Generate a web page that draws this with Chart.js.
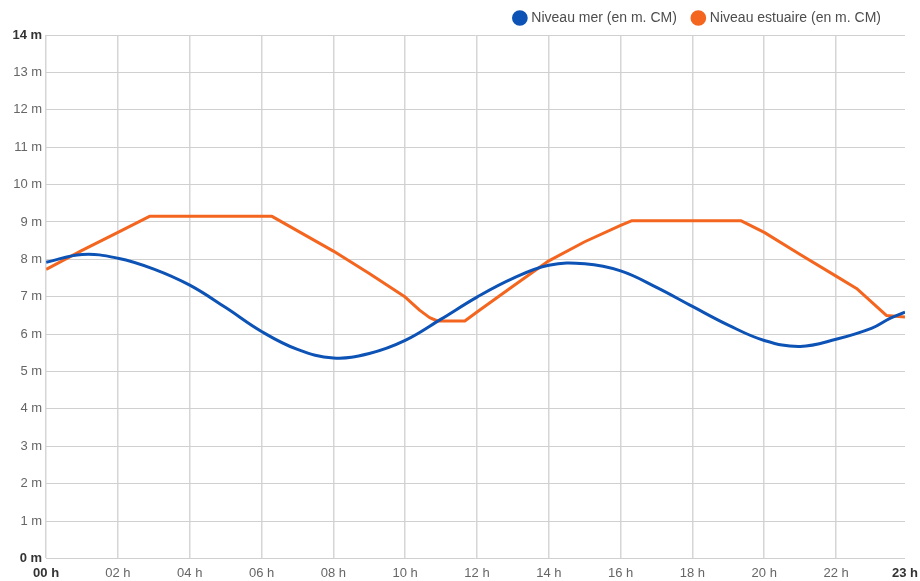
<!DOCTYPE html>
<html>
<head>
<meta charset="utf-8">
<script src="https://cdn.jsdelivr.net/npm/chart.js@4.4.0/dist/chart.umd.min.js"></script>
<style>
html,body{margin:0;padding:0;background:#fff}
#wrap{width:920px;height:581px;position:relative}
</style>
</head>
<body>
<div id="wrap"><canvas id="c"></canvas></div>
<script>
const seriesNames = ['Niveau mer (en m. CM)', 'Niveau estuaire (en m. CM)'];

const seaHours  = [0, 1, 2, 3, 4, 5, 6, 7, 8, 9, 10, 11, 12, 13, 14, 15, 16, 17, 18, 19, 20, 21, 22, 23, 23.5, 23.92];
const seaLevels = [7.92, 8.13, 8.03, 7.74, 7.31, 6.71, 6.07, 5.59, 5.36, 5.48, 5.83, 6.40, 6.99, 7.49, 7.84, 7.88, 7.69, 7.25, 6.74, 6.24, 5.83, 5.67, 5.86, 6.16, 6.42, 6.59];

const estuaryHours  = [0, 1, 2, 2.88, 6.29, 8, 9, 10, 10.4, 10.68, 10.9, 11.66, 12, 13, 14, 15, 16, 16.3, 19.36, 20, 21, 22, 22.57, 23.4, 23.92];
const estuaryLevels = [7.73, 8.24, 8.72, 9.15, 9.15, 8.22, 7.62, 6.99, 6.64, 6.44, 6.35, 6.35, 6.59, 7.28, 7.96, 8.47, 8.91, 9.03, 9.03, 8.72, 8.13, 7.55, 7.22, 6.50, 6.46];

const xTickValues = [0, 2, 4, 6, 8, 10, 12, 14, 16, 18, 20, 22, 23.92];
const xTickLabels = ['00 h', '02 h', '04 h', '06 h', '08 h', '10 h', '12 h', '14 h', '16 h', '18 h', '20 h', '22 h', '23 h'];
const yTickValues = [0, 1, 2, 3, 4, 5, 6, 7, 8, 9, 10, 11, 12, 13, 14];
const yTickLabels = ['0 m', '1 m', '2 m', '3 m', '4 m', '5 m', '6 m', '7 m', '8 m', '9 m', '10 m', '11 m', '12 m', '13 m', '14 m'];

const FONT = "'Liberation Sans', Arial, sans-serif";
const BLUE = '#0d52b5';
const ORANGE = '#f4661f';

function isEnd(ctx) {
  const n = ctx.scale && ctx.scale.ticks ? ctx.scale.ticks.length : 0;
  return ctx.index === 0 || ctx.index === n - 1;
}
const tickFont = ctx => ({family: FONT, size: 13, weight: isEnd(ctx) ? 'bold' : 'normal'});
const tickColor = ctx => isEnd(ctx) ? '#333333' : '#666666';

const legendShift = {
  id: 'legendShift',
  afterLayout(chart) {
    const l = chart.legend;
    if (l) { l.left -= 7; l.right -= 7; }
  }
};

new Chart(document.getElementById('c'), {
  type: 'line',
  data: {
    datasets: [
      {
        label: seriesNames[0],
        data: seaHours.map((h, i) => ({x: h, y: seaLevels[i]})),
        borderColor: BLUE,
        backgroundColor: BLUE,
        borderWidth: 3,
        pointRadius: 0,
        tension: 0.4,
        fill: false
      },
      {
        label: seriesNames[1],
        data: estuaryHours.map((h, i) => ({x: h, y: estuaryLevels[i]})),
        borderColor: ORANGE,
        backgroundColor: ORANGE,
        borderWidth: 3,
        pointRadius: 0,
        tension: 0,
        borderJoinStyle: 'round',
        fill: false
      }
    ]
  },
  options: {
    responsive: true,
    maintainAspectRatio: false,
    animation: false,
    devicePixelRatio: 1,
    layout: {padding: {left: 8.5, right: 15, top: -6, bottom: 0}},
    plugins: {
      tooltip: {enabled: false},
      legend: {
        position: 'top',
        align: 'end',
        labels: {
          usePointStyle: true,
          pointStyle: 'circle',
          boxWidth: 9,
          boxHeight: 9,
          padding: 17,
          color: '#4d4d4d',
          font: {family: FONT, size: 14}
        }
      }
    },
    scales: {
      x: {
        type: 'linear',
        min: 0,
        max: 23.92,
        afterBuildTicks: s => { s.ticks = xTickValues.map(v => ({value: v})); },
        ticks: {
          autoSkip: false,
          maxRotation: 0,
          padding: 0,
          font: tickFont,
          color: tickColor,
          callback: (v, i) => xTickLabels[i]
        },
        grid: {
          drawTicks: true,
          tickLength: 7,
          tickColor: 'rgba(0,0,0,0)',
          lineWidth: 1.5,
          color: ctx => (ctx.index === xTickValues.length - 1 ? 'rgba(0,0,0,0)' : '#d6d6d6')
        },
        border: {display: false}
      },
      y: {
        min: 0,
        max: 14,
        afterBuildTicks: s => { s.ticks = yTickValues.map(v => ({value: v})); },
        ticks: {
          padding: 4,
          font: tickFont,
          color: tickColor,
          callback: (v, i) => yTickLabels[i]
        },
        grid: {drawTicks: false, lineWidth: 1, color: '#d0d0d0'},
        border: {display: false}
      }
    }
  },
  plugins: [legendShift]
});
</script>
</body>
</html>
